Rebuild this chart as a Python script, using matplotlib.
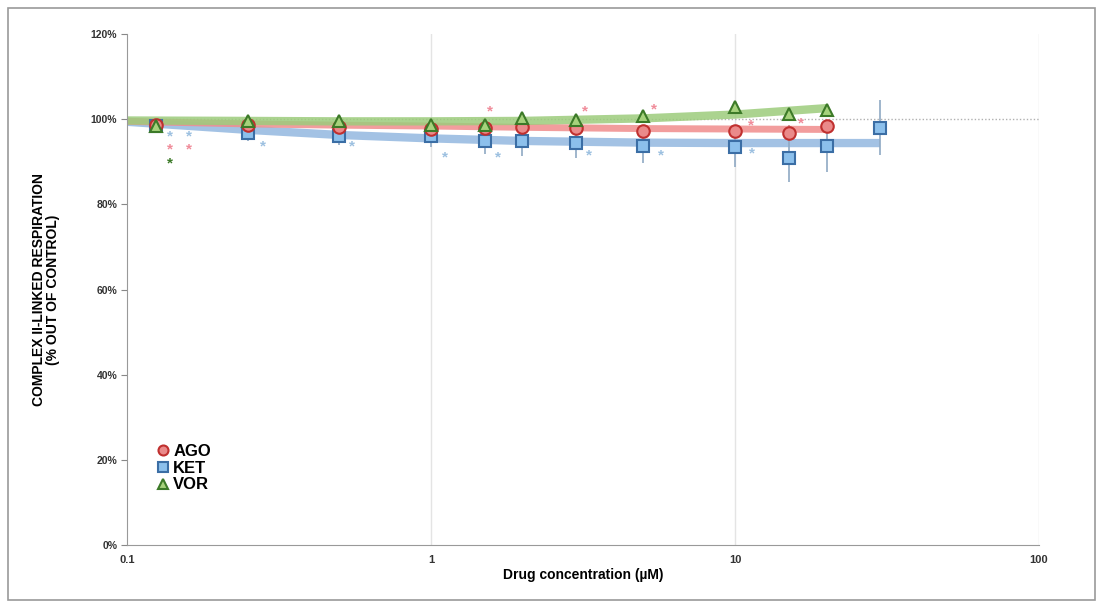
import numpy as np
import matplotlib
matplotlib.use("Agg")
import matplotlib.pyplot as plt
from matplotlib.patches import Rectangle

plt.rcParams["font.family"] = ["Liberation Sans", "DejaVu Sans"]

# Data, % of control
conc = [0.125, 0.25, 0.5, 1, 1.5, 2, 3, 5, 10, 15, 20]
ago = [98.6, 98.6, 98.2, 97.6, 97.9, 98.2, 98.0, 97.2, 97.2, 96.8, 98.4]
ago_sd = [0.6, 0.8, 0.8, 1.0, 1.2, 1.0, 1.2, 1.2, 1.5, 1.8, 1.0]
vor = [98.5, 99.6, 99.6, 98.6, 98.6, 100.3, 99.8, 100.8, 102.9, 101.2, 102.2]
vor_sd = [0.5, 0.8, 0.8, 0.8, 1.0, 1.0, 1.2, 1.0, 1.2, 1.2, 1.2]
ket_conc = [0.125, 0.25, 0.5, 1, 1.5, 2, 3, 5, 10, 15, 20, 30]
ket = [98.4, 96.8, 96.0, 96.0, 94.9, 94.9, 94.4, 93.7, 93.5, 91.0, 93.7, 98.0]
ket_sd = [1.0, 2.0, 2.0, 2.5, 3.0, 3.5, 3.5, 4.0, 4.7, 5.7, 6.0, 6.5]

# fitted curves
fit_x = [0.1, 0.25, 0.5, 1, 2, 5, 10, 20, 30]
fit_ago = [99.5, 98.9, 98.6, 98.4, 98.1, 97.8, 97.7, 97.6, np.nan]
fit_vor = [99.7, 99.6, 99.5, 99.5, 99.6, 100.2, 101.1, 102.6, np.nan]
fit_ket = [99.4, 97.5, 96.3, 95.5, 94.9, 94.5, 94.4, 94.4, 94.4]

# significance asterisks (x, y)
star_ago = [(0.138, 92.9), (0.16, 92.9), (1.56, 101.9), (3.2, 101.9),
            (5.4, 102.2), (11.3, 98.6), (16.5, 99.1)]
star_ket = [(0.138, 96.0), (0.16, 96.0), (0.28, 93.7), (0.55, 93.7),
            (1.11, 91.1), (1.66, 90.9), (3.3, 91.4), (5.7, 91.6), (11.4, 92.0)]
star_vor = [(0.138, 89.6)]

red_face, red_edge, red_line = "#ea8a8a", "#c0302f", "#f08c8c"
blue_face, blue_edge, blue_line = "#8cc0ec", "#3b6ea5", "#93b8e0"
green_face, green_edge, green_line = "#a6d27c", "#3c7a28", "#9ccc7c"

fig = plt.figure(figsize=(11.03, 6.07), dpi=100)
fig.patches.append(Rectangle((0.007, 0.012), 0.986, 0.975, transform=fig.transFigure,
                             fill=False, edgecolor="#9a9a9a", linewidth=1.2))
ax = fig.add_axes([0.1151, 0.1021, 0.8269, 0.8418])
ax.set_xscale("log")
ax.set_xlim(0.1, 100)
ax.set_ylim(0, 120)

# grid and 100% reference
for gx in [1, 10, 100]:
    ax.axvline(gx, color="#e4e4e4", linewidth=1, zorder=0)
ax.axhline(100, color="#b0b0b0", linewidth=1, linestyle=(0, (1, 1.5)), zorder=0.5)

ax.plot(fit_x, fit_ket, color=blue_line, linewidth=6, alpha=0.85, zorder=1, solid_capstyle="butt")
ax.plot(fit_x, fit_ago, color=red_line, linewidth=5, alpha=0.85, zorder=1.1, solid_capstyle="butt")
ax.plot(fit_x, fit_vor, color=green_line, linewidth=6, alpha=0.85, zorder=1.2, solid_capstyle="butt")

ax.errorbar(ket_conc, ket, yerr=ket_sd, fmt="s", markersize=9, markerfacecolor=blue_face,
            markeredgecolor=blue_edge, markeredgewidth=1.5, ecolor="#8fa9c4", elinewidth=1.2,
            capsize=0, zorder=3, label="KET")
ax.errorbar(conc, ago, yerr=ago_sd, fmt="o", markersize=9, markerfacecolor=red_face,
            markeredgecolor=red_edge, markeredgewidth=1.5, ecolor="#d08a8a", elinewidth=1.2,
            capsize=0, zorder=4, label="AGO")
ax.errorbar(conc, vor, yerr=vor_sd, fmt="^", markersize=9, markerfacecolor=green_face,
            markeredgecolor=green_edge, markeredgewidth=1.5, ecolor="#8ab080", elinewidth=1.2,
            capsize=0, zorder=5, label="VOR")

for stars, col in [(star_ago, "#f08c9a"), (star_ket, "#9cc0e0"), (star_vor, "#3c7a28")]:
    for sx, sy in stars:
        ax.text(sx, sy, "*", color=col, fontsize=11, fontweight="bold", ha="center", va="center", zorder=6)

ax.set_yticks(range(0, 121, 20))
ax.set_yticklabels(["%d%%" % v for v in range(0, 121, 20)])
ax.set_xticks([0.1, 1, 10, 100])
ax.set_xticklabels(["0.1", "1", "10", "100"])
ax.minorticks_off()
ax.tick_params(axis="y", labelsize=7.5, length=4, color="#888888", pad=3)
ax.tick_params(axis="x", labelsize=8, length=0, pad=7)
for lab in ax.get_yticklabels() + ax.get_xticklabels():
    lab.set_fontweight("bold")
    lab.set_color("#333333")

for s in ["top", "right"]:
    ax.spines[s].set_visible(False)
ax.spines["left"].set_color("#999999")
ax.spines["bottom"].set_color("#999999")

ax.set_xlabel("Drug concentration (\u00b5M)", fontsize=10, fontweight="bold", labelpad=2)
ax.set_ylabel("COMPLEX II-LINKED RESPIRATION\n(% OUT OF CONTROL)", fontsize=10,
              fontweight="bold", labelpad=22, linespacing=1.05)

handles, labels = ax.get_legend_handles_labels()
order = [labels.index(n) for n in ["AGO", "KET", "VOR"]]
leg = ax.legend([handles[i][0] for i in order], [labels[i] for i in order],
                loc="lower left", bbox_to_anchor=(0.025, 0.09), frameon=False,
                fontsize=12, handlelength=0.8, handletextpad=0.2, labelspacing=0.1,
                markerscale=0.8, borderaxespad=0)
for t in leg.get_texts():
    t.set_fontweight("bold")

fig.savefig("out.png", dpi=100)
